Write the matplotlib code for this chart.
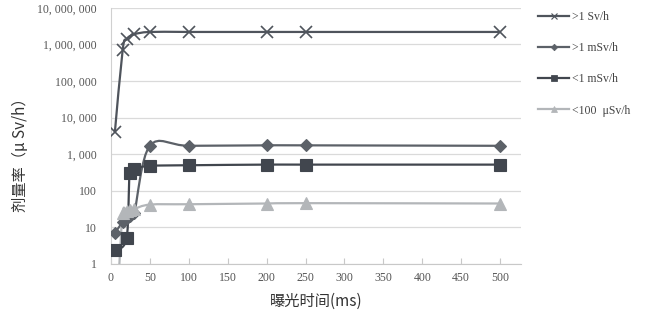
import numpy as np
import matplotlib
matplotlib.use("Agg")
import matplotlib.pyplot as plt
from matplotlib.path import Path
from matplotlib.patches import PathPatch
from matplotlib.lines import Line2D

# ---- data ----
x_sv = [5, 15, 20, 30, 50, 100, 200, 250, 500]
y_sv = [4000, 700000, 1400000, 1900000, 2200000, 2200000, 2200000, 2200000, 2200000]

x_msv_hi = [5, 15, 20, 25, 30, 50, 100, 200, 250, 500]
y_msv_hi = [7, 14, 18, 21, 25, 1700, 1700, 1750, 1750, 1700]

x_msv_lo = [5, 20, 24, 30, 50, 100, 200, 250, 500]
y_msv_lo = [2.4, 5, 300, 400, 480, 500, 520, 520, 520]

x_usv = [10, 15, 20, 25, 30, 50, 100, 200, 250, 500]
y_usv = [0.5, 25, 28, 30, 32, 42, 43, 45, 46, 45]

labels = [">1 Sv/h", ">1 mSv/h", "<1 mSv/h", "<100  μSv/h"]
xticks = [0, 50, 100, 150, 200, 250, 300, 350, 400, 450, 500]
yticks = [1, 10, 100, 1000, 10000, 100000, 1000000, 10000000]

colors = ["#4f545c", "#5c6168", "#41464e", "#b3b6b9"]
markers = ["x", "D", "s", "^"]
msizes = [8, 6, 8, 8]

serif = ["Liberation Serif", "DejaVu Serif"]
cjk = ["Noto Sans CJK SC", "DejaVu Sans"]


def smooth_path(xs, ys):
    """Excel-style smoothed line: cubic Bezier through points (in x, log10 y)."""
    px = np.asarray(xs, float)
    py = np.log10(np.asarray(ys, float))
    n = len(px)
    verts = [(px[0], 10 ** py[0])]
    codes = [Path.MOVETO]
    for i in range(n - 1):
        i0 = max(i - 1, 0)
        i3 = min(i + 2, n - 1)
        c1x = px[i] + (px[i + 1] - px[i0]) / 6
        c1y = py[i] + (py[i + 1] - py[i0]) / 6
        c2x = px[i + 1] - (px[i3] - px[i]) / 6
        c2y = py[i + 1] - (py[i3] - py[i]) / 6
        verts += [(c1x, 10 ** c1y), (c2x, 10 ** c2y), (px[i + 1], 10 ** py[i + 1])]
        codes += [Path.CURVE4] * 3
    return Path(verts, codes)


fig = plt.figure(figsize=(6.49, 3.16), dpi=100)
ax = fig.add_axes([0.171, 0.1646, 0.632, 0.8104])
ax.set_yscale("log")

series = [(x_sv, y_sv), (x_msv_hi, y_msv_hi), (x_msv_lo, y_msv_lo), (x_usv, y_usv)]
handles = []
for (xs, ys), c, m, ms, lab in zip(series, colors, markers, msizes, labels):
    patch = PathPatch(smooth_path(xs, ys), fill=False, edgecolor=c, lw=1.6, zorder=3)
    ax.add_patch(patch)
    mew = 1.2 if m == "x" else 0.8
    ax.plot(xs, ys, linestyle="none", marker=m, ms=ms, color=c, mec=c, mew=mew, zorder=4)
    handles.append(Line2D([], [], color=c, lw=1.6, marker=m, ms=ms * 0.55, mew=mew * 0.7, mec=c))

ax.set_xlim(0, 527)
ax.set_ylim(1, 1e7)
ax.set_xticks(xticks)
ax.set_xticklabels([str(v) for v in xticks], fontfamily=serif, fontsize=8.5, color="#555555")
ax.set_yticks(yticks)
ax.set_yticklabels([f"{v:,}".replace(",", ", ") for v in yticks], fontfamily=serif,
                   fontsize=8.5, color="#555555")
ax.yaxis.set_minor_locator(matplotlib.ticker.NullLocator())
ax.tick_params(axis="y", length=0, pad=10)
ax.tick_params(axis="x", length=4, direction="in", color="#c8c8c8", pad=6)
ax.grid(axis="y", color="#dadada", lw=0.9)
ax.set_axisbelow(True)
for s in ["top", "right"]:
    ax.spines[s].set_visible(False)
ax.spines["left"].set_color("#d0d0d0")
ax.spines["bottom"].set_color("#c8c8c8")

ax.set_xlabel("曝光时间(ms)", fontfamily=cjk, fontsize=11, color="#333333", labelpad=6)
fig.text(0.031, 0.52, "剂量率（μ Sv/h）", rotation=90, ha="center", va="center",
         fontfamily=cjk, fontsize=11, color="#333333")

leg = fig.legend(handles, labels, loc="upper left", bbox_to_anchor=(0.812, 1.0),
                 frameon=False, handlelength=2.6, handletextpad=0.3, labelspacing=1.62,
                 borderpad=0.45, prop={"family": serif, "size": 8.5})
for t in leg.get_texts():
    t.set_color("#444444")

fig.savefig("out.png", dpi=100)
